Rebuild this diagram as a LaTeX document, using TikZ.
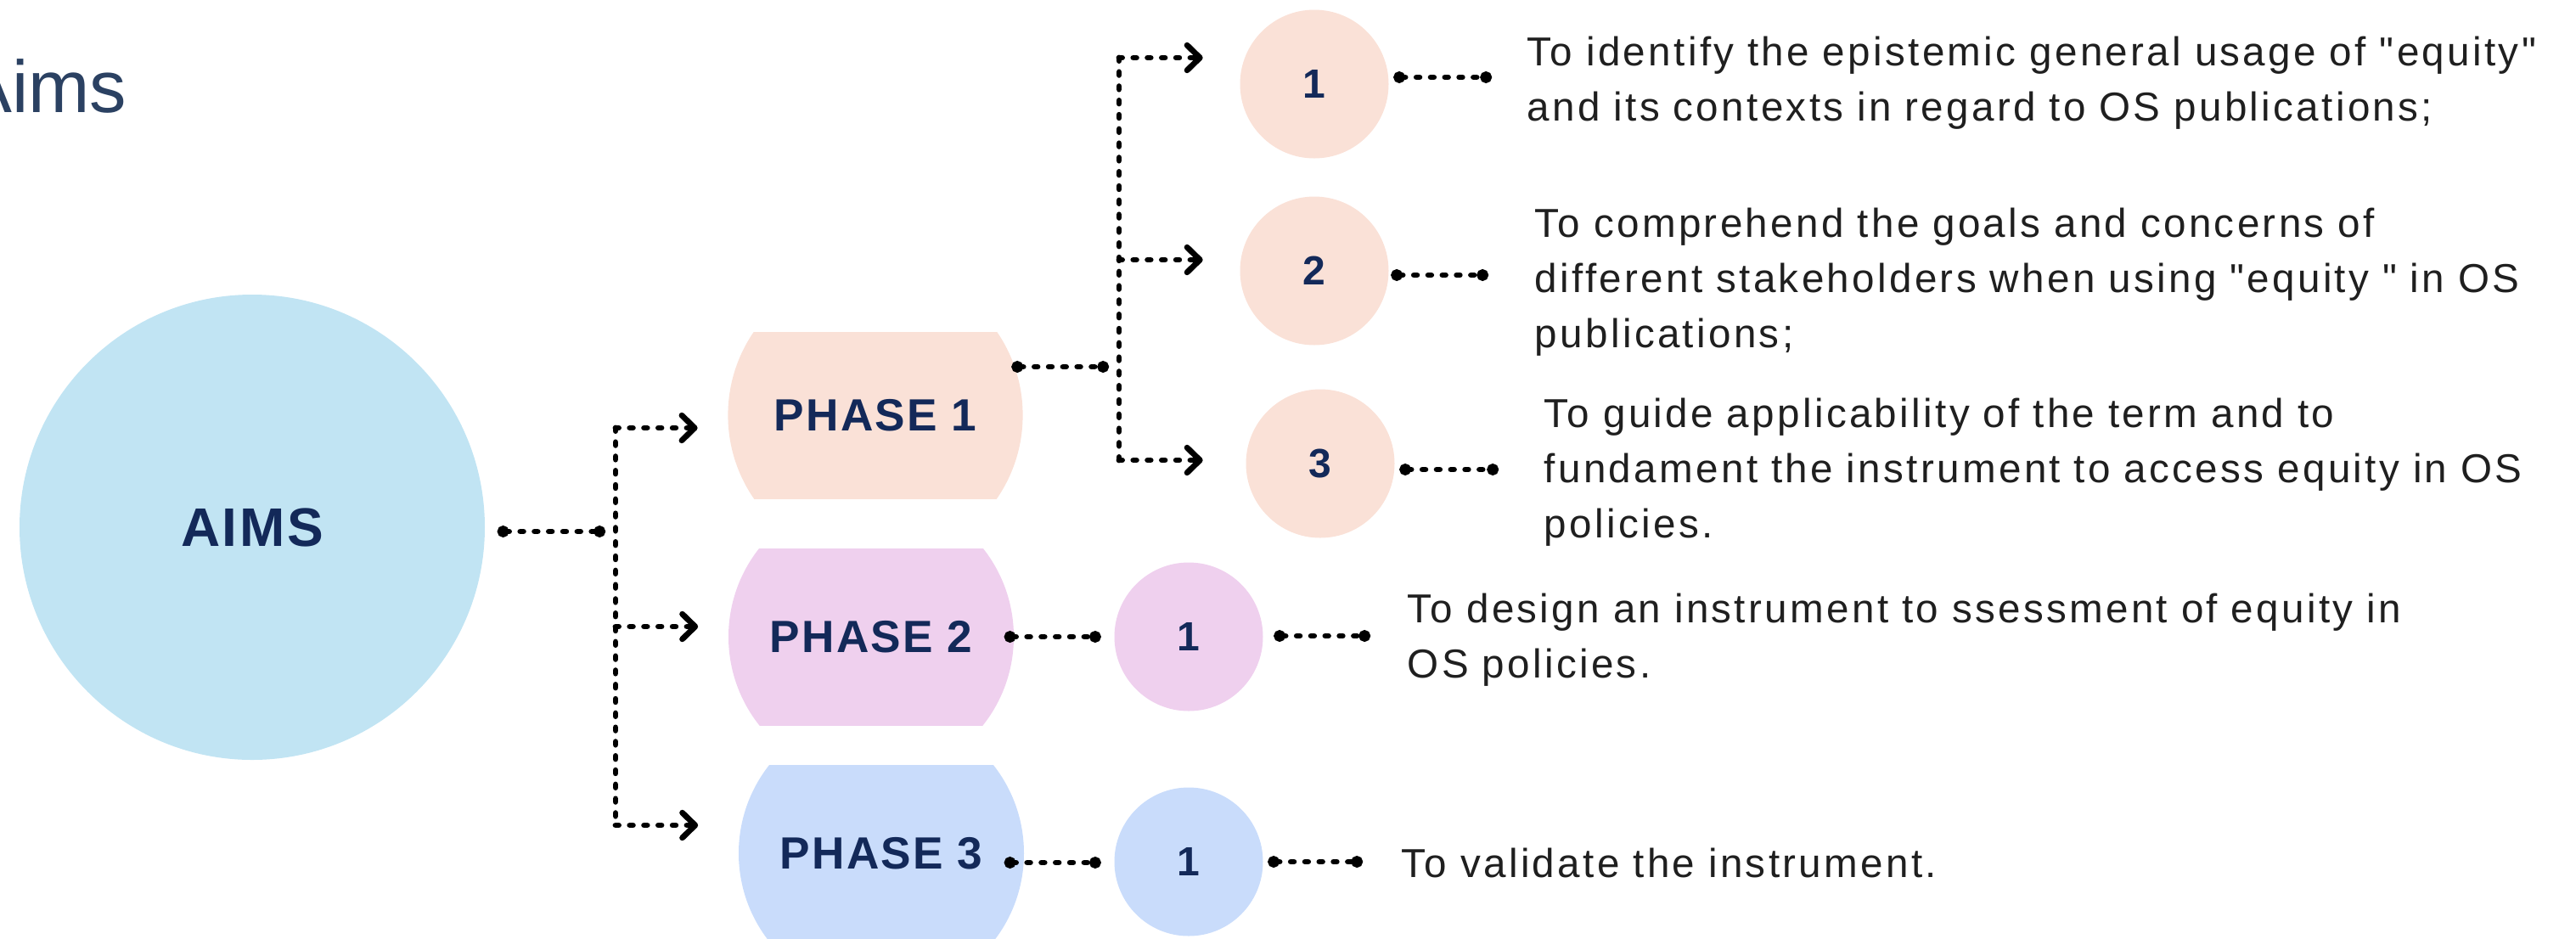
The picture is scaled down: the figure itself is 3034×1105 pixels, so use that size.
\documentclass[tikz,border=0pt]{standalone}
\usepackage{fontspec}
\setmainfont{Liberation Sans}
\newfontfamily\bodyfont{Liberation Sans}[LetterSpace=7]
\newfontfamily\headfont{Liberation Sans}[LetterSpace=4]
\usetikzlibrary{arrows.meta}
\definecolor{aimsblue}{HTML}{C1E4F3}
\definecolor{peach}{HTML}{FAE1D7}
\definecolor{lilac}{HTML}{EFD0EE}
\definecolor{paleblue}{HTML}{C9DCFB}
\definecolor{navy}{HTML}{132959}
\definecolor{slate}{HTML}{2B4162}
\definecolor{ink}{HTML}{1F1F1F}

\tikzset{
  bigcirc/.style={circle, fill=aimsblue, minimum size=137pt, inner sep=0pt, text=navy,
    font=\headfont\bfseries\fontsize{16pt}{16pt}\selectfont},
  phasebox/.style n args={3}{rectangle, inner sep=0pt, minimum width=2*#2, minimum height=#3,
    text=navy, font=\headfont\bfseries\fontsize{13.3pt}{13.3pt}\selectfont,
    path picture={\fill[#1] (path picture bounding box.center) circle[radius=#2];}},
  numcirc/.style={circle, fill=#1, minimum size=43.75pt, inner sep=0pt, text=navy,
    font=\bfseries\fontsize{12pt}{12pt}\selectfont},
  aimtext/.style={anchor=base west, inner sep=0pt, text width=330pt, align=left, text=ink,
    font=\bodyfont\fontsize{11.9pt}{16.25pt}\selectfont},
  dotline/.style={draw=black, line width=1.7pt, dash pattern=on 0.9pt off 3.3pt},
  dotends/.style={{Circle[length=3.4pt]}-{Circle[length=3.4pt]}},
  arrowline/.style={-{Straight Barb[round, length=3.8pt, width=7.4pt]}}
}

\begin{document}
\begin{tikzpicture}[line cap=round, line join=round, x=0.25pt, y=-0.25pt]
\useasboundingbox (0,0) rectangle (3034,1105);
\node[anchor=base east, inner sep=0pt, text=slate, font=\fontsize{21.7pt}{21.7pt}\selectfont] (title) at (150,132) {Aims};

\node[bigcirc] (aims) at (297,621) {AIMS};
\node[phasebox={peach}{43.4pt}{49pt}] (ph1) at (1031,489) {PHASE 1};
\node[phasebox={lilac}{42pt}{52pt}] (ph2) at (1026,750) {PHASE 2};
\node[phasebox={paleblue}{42pt}{52pt}] (ph3) at (1038,1005) {PHASE 3};

\node[numcirc=peach] (c11) at (1548,99) {1};
\node[numcirc=peach] (c12) at (1548,319) {2};
\node[numcirc=peach] (c13) at (1555,546) {3};
\node[numcirc=lilac] (c21) at (1400,750) {1};
\node[numcirc=paleblue] (c31) at (1400,1015) {1};

\node[aimtext] (t11) at (1798,77) {To identify the epistemic general usage of "equity"\\and its contexts in regard to OS publications;};
\node[aimtext] (t12) at (1807,279) {To comprehend the goals and concerns of\\different stakeholders when using "equity " in OS\\publications;};
\node[aimtext] (t13) at (1818,503) {To guide applicability of the term and to\\fundament the instrument to access equity in OS\\policies.};
\node[aimtext] (t21) at (1657,733) {To design an instrument to ssessment of equity in\\OS policies.};
\node[aimtext] (t31) at (1650,1033) {To validate the instrument.};

% aims to the three phases
\coordinate (ab) at (725,626);
\coordinate (a1) at ([shift={(-35,15)}]ph1.west);
\coordinate (a2) at ([shift={(-35,-12)}]ph2.west);
\coordinate (a3) at ([shift={(-47,-33)}]ph3.west);
\draw[dotline, dotends] ([shift={(14,5)}]aims.east) -- ([shift={(-12,0)}]ab);
\draw[dotline] (ab |- a1) -- (ab |- a3);
\foreach \k in {a1,a2,a3} \draw[dotline, arrowline] (ab |- \k) -- (\k);

% phase 1 to its three aims
\coordinate (pb) at (1318,432);
\coordinate (b1) at ([shift={(-43,-31)}]c11.west);
\coordinate (b2) at ([shift={(-43,-13)}]c12.west);
\coordinate (b3) at ([shift={(-50,-4)}]c13.west);
\draw[dotline, dotends] ([shift={(-14,-57)}]ph1.east) -- ([shift={(-12,0)}]pb);
\draw[dotline] (pb |- b1) -- (pb |- b3);
\foreach \k in {b1,b2,b3} \draw[dotline, arrowline] (pb |- \k) -- (\k);

% phases 2 and 3
\draw[dotline, dotends] ([shift={(-12,0)}]ph2.east) -- ([shift={(-15,0)}]c21.west);
\draw[dotline, dotends] ([shift={(-24,11)}]ph3.east) -- ([shift={(-15,1)}]c31.west);

% circles to texts
\coordinate (d11) at ([shift={(-41,14)}]t11.base west);
\coordinate (d12) at ([shift={(-54,45)}]t12.base west);
\coordinate (d13) at ([shift={(-53,50)}]t13.base west);
\coordinate (d21) at ([shift={(-43,16)}]t21.base west);
\coordinate (d31) at ([shift={(-45,-18)}]t31.base west);
\draw[dotline, dotends] ([shift={(5,-8)}]c11.east) -- (d11);
\draw[dotline, dotends] ([shift={(2,5)}]c12.east) -- (d12);
\draw[dotline, dotends] ([shift={(5,7)}]c13.east) -- (d13);
\draw[dotline, dotends] ([shift={(12,-1)}]c21.east) -- (d21);
\draw[dotline, dotends] ([shift={(5,0)}]c31.east) -- (d31);
\end{tikzpicture}
\end{document}
